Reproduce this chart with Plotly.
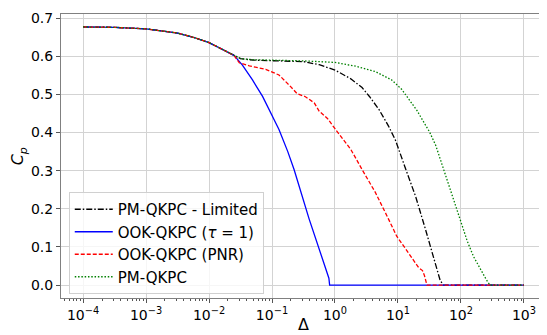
import plotly.graph_objects as go

# Shared initial segment (all curves overlap)
common_x = [1e-4, 3.16e-4, 1e-3, 3.16e-3, 5.62e-3, 1e-2, 1.78e-2, 2.51e-2]
common_y = [0.677, 0.676, 0.672, 0.661, 0.650, 0.636, 0.615, 0.602]

# PM-QKPC - Limited (black dash-dot)
lim_x = [0.0316, 0.0501, 0.1, 0.316, 0.562, 1.0, 1.78, 2.69, 3.55, 5.01, 7.08, 9.12,
         13.2, 19.1, 26.9, 35.5, 41.7, 46.8, 52.5, 1000]
lim_y = [0.594, 0.590, 0.589, 0.586, 0.578, 0.564, 0.541, 0.518, 0.494, 0.460, 0.417, 0.380,
         0.305, 0.232, 0.150, 0.080, 0.038, 0.012, 0.0, 0.0]

# OOK-QKPC (tau = 1) (blue solid)
ook_x = [0.0339, 0.049, 0.0708, 0.0955, 0.129, 0.178, 0.224, 0.389, 0.562, 0.8, 0.822, 1000]
ook_y = [0.577, 0.538, 0.495, 0.451, 0.408, 0.350, 0.303, 0.173, 0.094, 0.018, 0.0, 0.0]

# OOK-QKPC (PNR) (red dashed)
pnr_x = [0.0302, 0.0437, 0.0794, 0.129, 0.186, 0.251, 0.339, 0.468, 0.562, 0.759, 1.0, 1.23,
         1.78, 2.69, 4.37, 7.08, 9.55, 13.2, 15.8, 21.4, 24.5, 26.3, 28.8, 1000]
pnr_y = [0.583, 0.575, 0.566, 0.551, 0.525, 0.502, 0.494, 0.478, 0.456, 0.437, 0.410, 0.390,
         0.356, 0.303, 0.243, 0.173, 0.128, 0.095, 0.077, 0.045, 0.038, 0.025, 0.0, 0.0]

# PM-QKPC (green dotted)
pm_x = [0.0316, 0.0501, 0.1, 0.316, 1.0, 2.14, 4.37, 7.94, 11.5, 15.8, 20.0, 25.1, 31.6,
        39.8, 50.1, 63.1, 79.4, 100, 126, 158, 200, 251, 288, 1000]
pm_y = [0.594, 0.591, 0.590, 0.588, 0.584, 0.574, 0.560, 0.538, 0.513, 0.482, 0.458, 0.430, 0.402,
        0.366, 0.316, 0.265, 0.212, 0.163, 0.115, 0.075, 0.043, 0.015, 0.0, 0.0]

x_tickvals = [1e-4, 1e-3, 1e-2, 1e-1, 1e0, 1e1, 1e2, 1e3]
x_ticktext = ["10<sup>−4</sup>", "10<sup>−3</sup>", "10<sup>−2</sup>", "10<sup>−1</sup>",
              "10<sup>0</sup>", "10<sup>1</sup>", "10<sup>2</sup>", "10<sup>3</sup>"]
y_tickvals = [0.0, 0.1, 0.2, 0.3, 0.4, 0.5, 0.6, 0.7]
y_ticktext = ["0.0", "0.1", "0.2", "0.3", "0.4", "0.5", "0.6", "0.7"]

series = [
    ("PM-QKPC - Limited", lim_x, lim_y, "black", "6px,2px,1.5px,2px"),
    ("OOK-QKPC (<i>τ</i> = 1)", ook_x, ook_y, "blue", "solid"),
    ("OOK-QKPC (PNR)", pnr_x, pnr_y, "red", "4px,2px"),
    ("PM-QKPC", pm_x, pm_y, "green", "1.5px,1.8px"),
]

fig = go.Figure()
for i, (name, xs, ys, color, dash) in enumerate(series):
    fig.add_trace(go.Scatter(
        x=common_x + xs, y=common_y + ys, mode="lines", name=name,
        legendgroup="g%d" % i,
        line=dict(color=color, width=1.3, dash=dash),
    ))

# page body adds an 8px offset; figure sized to fit the 547x335 window
font = dict(family="DejaVu Sans", size=14, color="black")
fig.update_layout(
    width=539, height=327,
    margin=dict(l=53, r=1, t=6, b=37),
    plot_bgcolor="white", paper_bgcolor="white",
    font=font,
    showlegend=True,
    legend=dict(
        x=0.016, y=0.014, xanchor="left", yanchor="bottom",
        bgcolor="rgba(255,255,255,0.8)", bordercolor="#d0d0d0", borderwidth=1,
        font=dict(family="DejaVu Sans", size=15, color="black"),
        traceorder="grouped", tracegroupgap=0, itemwidth=38,
    ),
    annotations=[
        dict(text="Δ", xref="paper", yref="paper", x=0.5, y=-0.095,
             xanchor="center", yanchor="middle", showarrow=False,
             font=dict(family="DejaVu Sans", size=16, color="black")),
        dict(text="<i>C<sub>p</sub></i>", xref="paper", yref="paper", x=-0.088, y=0.5,
             xanchor="center", yanchor="middle", showarrow=False, textangle=-90,
             font=dict(family="DejaVu Sans", size=16, color="black")),
    ],
)
fig.update_xaxes(
    type="log", range=[-4.35, 3.35], automargin=False,
    tickmode="array", tickvals=x_tickvals, ticktext=x_ticktext,
    showgrid=True, gridcolor="#d3d3d3", gridwidth=1,
    showline=True, linecolor="#808080", linewidth=1, mirror=True,
    ticks="outside", ticklen=4, tickcolor="#555555",
    minor=dict(dtick="D1", ticks="outside", ticklen=2, tickcolor="#555555", showgrid=False),
    zeroline=False,
)
fig.update_yaxes(
    range=[-0.034, 0.711], automargin=False,
    tickmode="array", tickvals=y_tickvals, ticktext=y_ticktext,
    showgrid=True, gridcolor="#d3d3d3", gridwidth=1,
    showline=True, linecolor="#808080", linewidth=1, mirror=True,
    ticks="outside", ticklen=4, tickcolor="#555555",
    zeroline=False,
)

fig.write_html("out.html")
